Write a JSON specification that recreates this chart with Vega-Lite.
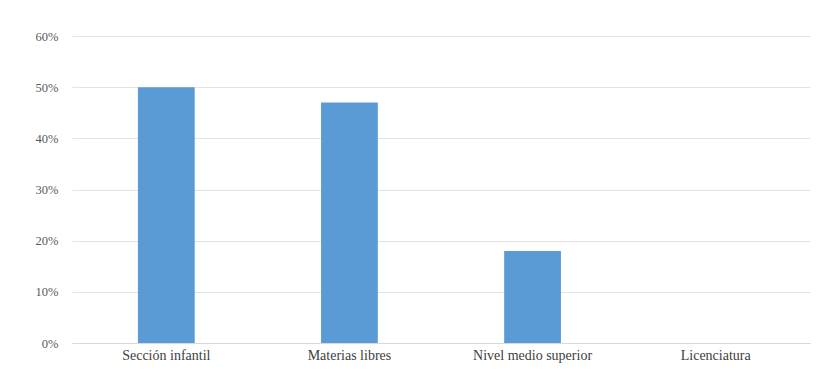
{
  "$schema": "https://vega.github.io/schema/vega-lite/v6.json",
  "autosize": {"type": "none"},
  "width": 738,
  "height": 307,
  "padding": {"left": 72, "top": 36, "right": 9, "bottom": 36},
  "background": "white",
  "config": {"view": {"stroke": null}, "font": "Liberation Serif"},
  "data": {
    "values": [
      {"nivel": "Sección infantil", "pct": 0.50},
      {"nivel": "Materias libres", "pct": 0.47},
      {"nivel": "Nivel medio superior", "pct": 0.18},
      {"nivel": "Licenciatura", "pct": 0.0}
    ]
  },
  "mark": {"type": "bar", "color": "#5b9bd5"},
  "encoding": {
    "x": {
      "field": "nivel",
      "type": "nominal",
      "sort": null,
      "scale": {"paddingInner": 0.69, "paddingOuter": 0.36},
      "axis": {
        "title": null,
        "labelAngle": 0,
        "ticks": false,
        "domainColor": "#d9d9d9",
        "labelColor": "#404040",
        "labelFontSize": 14,
        "labelPadding": 5,
        "labelFont": "Liberation Serif"
      }
    },
    "y": {
      "field": "pct",
      "type": "quantitative",
      "scale": {"domain": [0, 0.6]},
      "axis": {
        "title": null,
        "format": ".0%",
        "values": [0, 0.1, 0.2, 0.3, 0.4, 0.5, 0.6],
        "domain": false,
        "ticks": false,
        "gridColor": "#e3e3e3",
        "labelColor": "#595959",
        "labelFontSize": 12.5,
        "labelPadding": 14,
        "labelFont": "Liberation Serif"
      }
    }
  }
}
